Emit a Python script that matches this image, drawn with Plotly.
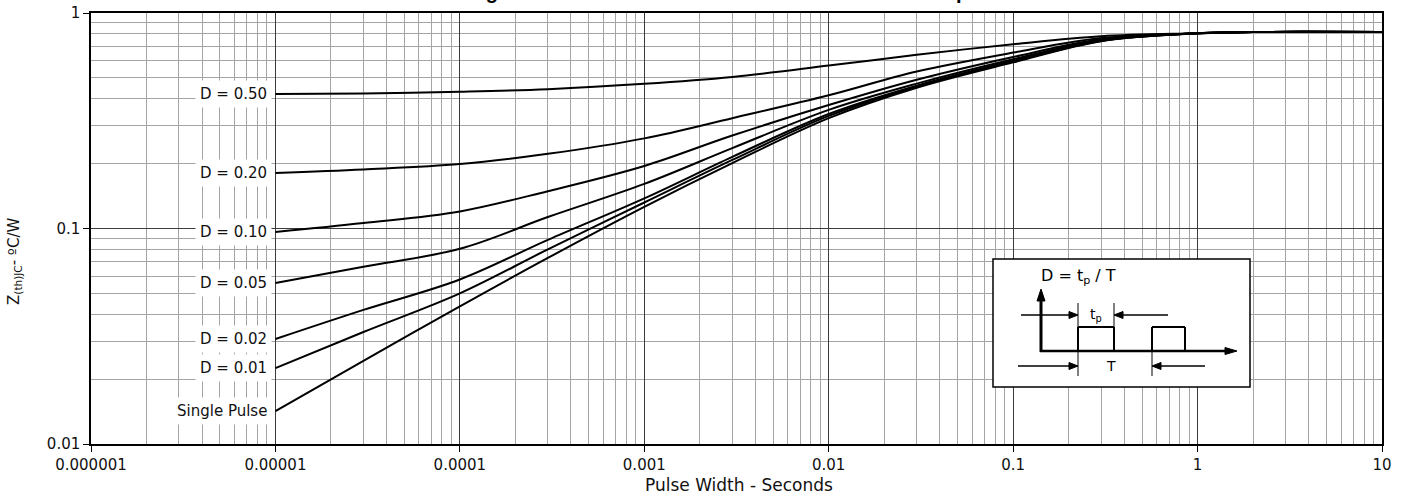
import numpy as np
import plotly.graph_objects as go

# ---------------- data ----------------
pulse_width = [1e-5, 3e-5, 1e-4, 3e-4, 1e-3, 3e-3, 1e-2, 3e-2, 1e-1, 3e-1, 1, 2, 10]

z_d050 = [0.421, 0.423, 0.431, 0.443, 0.469, 0.505, 0.570, 0.640, 0.716, 0.780, 0.805, 0.816, 0.816]
z_d020 = [0.181, 0.188, 0.199, 0.222, 0.262, 0.325, 0.415, 0.535, 0.655, 0.765, 0.805, 0.816, 0.816]
z_d010 = [0.0963, 0.106, 0.120, 0.149, 0.195, 0.270, 0.374, 0.490, 0.625, 0.755, 0.805, 0.816, 0.816]
z_d005 = [0.0559, 0.0665, 0.0805, 0.113, 0.161, 0.236, 0.355, 0.470, 0.610, 0.750, 0.805, 0.816, 0.816]
z_d002 = [0.0307, 0.0419, 0.058, 0.0885, 0.138, 0.215, 0.340, 0.460, 0.600, 0.745, 0.805, 0.816, 0.816]
z_d001 = [0.0225, 0.0331, 0.050, 0.080, 0.132, 0.208, 0.333, 0.455, 0.595, 0.742, 0.805, 0.816, 0.816]
z_single = [0.0142, 0.0243, 0.0435, 0.0730, 0.126, 0.201, 0.325, 0.450, 0.590, 0.740, 0.805, 0.816, 0.816]

series_names = ["D = 0.50", "D = 0.20", "D = 0.10", "D = 0.05", "D = 0.02", "D = 0.01", "Single Pulse"]
series_values = [z_d050, z_d020, z_d010, z_d005, z_d002, z_d001, z_single]

x_tickvals = [1e-6, 1e-5, 1e-4, 1e-3, 1e-2, 1e-1, 1, 10]
x_ticktext = ["0.000001", "0.00001", "0.0001", "0.001", "0.01", "0.1", "1", "10"]
y_tickvals = [0.01, 0.1, 1]
y_ticktext = ["0.01", "0.1", "1"]

title_text = "Figure 10. Maximum Effective Transient Thermal Impedance"
x_title = "Pulse Width - Seconds"
y_title = "Z<sub>(th)JC</sub>- ºC/W"

# ---------------- layout geometry ----------------
W, H = 1408, 495
PL, PR, PT, PB = 91, 1382, 13, 444
FONT = "DejaVu Sans"
MAJOR = "#3c3c3c"
MINOR = "#a4a4a4"
TXT = "#111111"


def px(x):
    return (x - PL) / (PR - PL)


def py(y):
    return (PB - y) / (PB - PT)


fig = go.Figure()
for name, vals in zip(series_names, series_values):
    fig.add_trace(go.Scatter(
        x=pulse_width, y=vals, mode="lines", name=name,
        line=dict(color="black", width=2, shape="spline", smoothing=1.0),
        showlegend=False, hoverinfo="skip"))

annotations = []
for name, vals in zip(series_names, series_values):
    annotations.append(dict(
        x=np.log10(pulse_width[0]), y=np.log10(vals[0]), xref="x", yref="y",
        text=name, showarrow=False, xanchor="right", yanchor="middle",
        xshift=-3, bgcolor="white", borderpad=4,
        font=dict(family=FONT, size=15, color=TXT)))

# partially clipped chart title (only descenders visible in the reference)
annotations.append(dict(
    x=px(466), y=1, xref="paper", yref="paper", text="<b>" + title_text + "</b>",
    showarrow=False, xanchor="left", yanchor="bottom", yshift=8,
    font=dict(family="Liberation Sans", size=20, color="black")))

# axis titles
annotations.append(dict(
    x=px(14), y=py(262), xref="paper", yref="paper", text=y_title,
    showarrow=False, textangle=-90, xanchor="center", yanchor="middle",
    font=dict(family=FONT, size=15, color=TXT)))
annotations.append(dict(
    x=px(739), y=py(485), xref="paper", yref="paper", text=x_title,
    showarrow=False, xanchor="center", yanchor="middle",
    font=dict(family=FONT, size=17, color=TXT)))

# ---------------- inset: D = tp / T ----------------
shapes = []
shapes.append(dict(type="rect", xref="paper", yref="paper",
                   x0=px(993), x1=px(1250), y0=py(387), y1=py(259),
                   line=dict(color="black", width=1.5), fillcolor="white", layer="above"))


def seg(x0, y0, x1, y1, w=1.0):
    shapes.append(dict(type="line", xref="paper", yref="paper",
                       x0=px(x0), y0=py(y0), x1=px(x1), y1=py(y1),
                       line=dict(color="black", width=w), layer="above"))


def arrow(hx, hy, tx, ty, w=1.5, hl=9, hw=3.5):
    d = np.array([hx - tx, hy - ty], dtype=float)
    d /= np.linalg.norm(d)
    n = np.array([-d[1], d[0]])
    base = np.array([hx, hy]) - d * hl
    seg(tx, ty, base[0], base[1], w)
    p1 = base + n * hw
    p2 = base - n * hw
    path = "M {} {} L {} {} L {} {} Z".format(px(hx), py(hy), px(p1[0]), py(p1[1]),
                                            px(p2[0]), py(p2[1]))
    shapes.append(dict(type="path", xref="paper", yref="paper", path=path,
                       fillcolor="black", line=dict(color="black", width=1), layer="above"))


# pulses
seg(1078, 351, 1078, 327, 2); seg(1078, 327, 1114, 327, 2); seg(1114, 327, 1114, 351, 2)
seg(1152, 351, 1152, 327, 2); seg(1152, 327, 1185, 327, 2); seg(1185, 327, 1185, 351, 2)
# guide ticks
seg(1078, 303, 1078, 376, 1)
seg(1114, 303, 1114, 327, 1)
seg(1152, 351, 1152, 376, 1)

arrow(1041, 289, 1041, 352, 3, 12, 4)      # vertical axis
arrow(1237, 351, 1040, 351, 2.5, 12, 3.5)  # horizontal axis
arrow(1078, 315, 1021, 315, 1.5)           # tp left
arrow(1114, 315, 1168, 315, 1.5)           # tp right
arrow(1078, 366, 1018, 366, 1.5)           # T left
arrow(1152, 366, 1205, 366, 1.5)           # T right

annotations.append(dict(x=px(1039), y=py(276), xref="paper", yref="paper",
                        text="D = t<sub>p</sub> / T", showarrow=False,
                        xanchor="left", yanchor="middle",
                        font=dict(family=FONT, size=16, color="black")))
annotations.append(dict(x=px(1096), y=py(315), xref="paper", yref="paper",
                        text="t<sub>p</sub>", showarrow=False,
                        xanchor="center", yanchor="middle",
                        font=dict(family=FONT, size=14, color="black")))
annotations.append(dict(x=px(1111), y=py(366), xref="paper", yref="paper",
                        text="T", showarrow=False,
                        xanchor="center", yanchor="middle",
                        font=dict(family=FONT, size=14, color="black")))

axis_common = dict(
    type="log", showline=True, linecolor="black", linewidth=1.5, mirror=True,
    ticks="outside", ticklen=6, tickcolor="black", tickwidth=1,
    showgrid=True, gridcolor=MAJOR, gridwidth=1,
    minor=dict(dtick="D1", showgrid=True, gridcolor=MINOR, gridwidth=1, ticks=""),
    tickfont=dict(family=FONT, size=15, color=TXT),
    tickmode="array", zeroline=False, automargin=False,
)

fig.update_layout(
    width=W, height=H,
    margin=dict(l=PL, r=W - PR, t=PT, b=H - PB, autoexpand=False),
    paper_bgcolor="white", plot_bgcolor="white",
    xaxis=dict(axis_common, range=[-6, 1], tickvals=x_tickvals, ticktext=x_ticktext),
    yaxis=dict(axis_common, range=[-2, 0], tickvals=y_tickvals, ticktext=y_ticktext),
    annotations=annotations,
    shapes=shapes,
)

fig.write_html("out.html", config={"displayModeBar": False},
               post_script="document.body.style.margin='0px';document.body.style.overflow='hidden';")
